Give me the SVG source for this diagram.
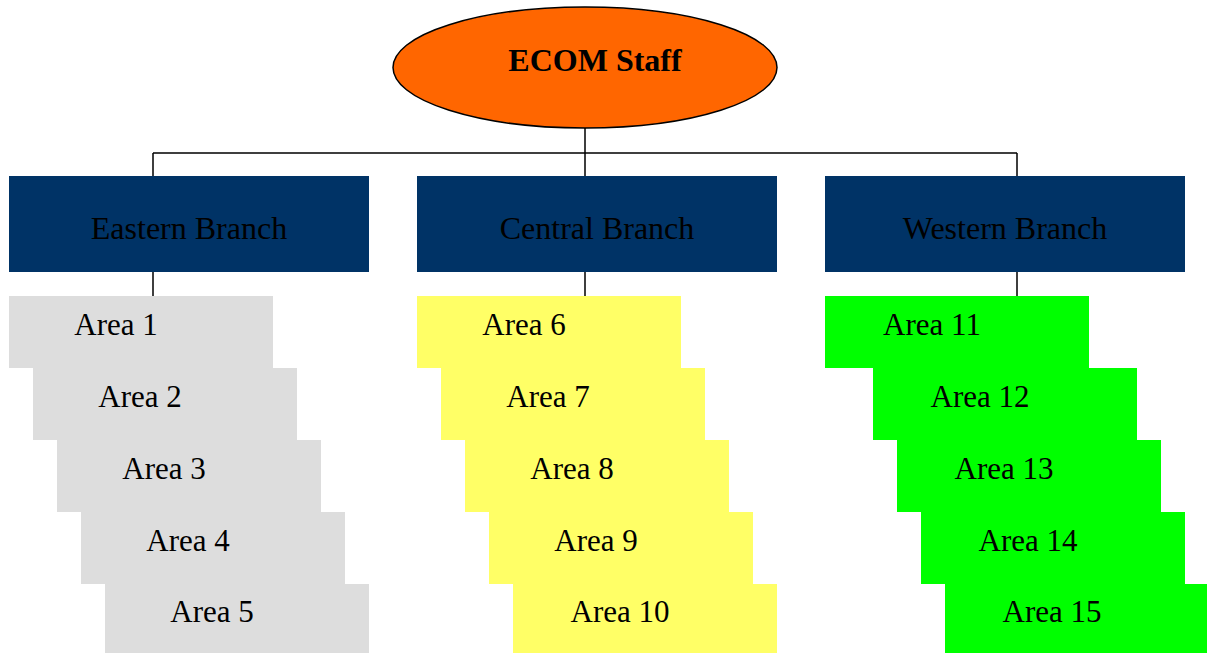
<svg xmlns="http://www.w3.org/2000/svg" width="1207" height="654" viewBox="0 0 1207 654">
<style>
text{font-family:"Liberation Serif","Times New Roman",serif;font-size:31px;fill:#000;text-anchor:middle}
.big{font-size:32px}
.branch{fill:#003366}
.gray{fill:#DDDDDD}
.yellow{fill:#FFFF66}
.green{fill:#00FF00}
.conn{stroke:#000;stroke-width:1.5;fill:none}
</style>
<rect width="1207" height="654" fill="#fff"/>
<g id="connectors">
<path class="conn" d="M585,128 V176 M153,153 H1017 M153,153 V176 M1017,153 V176"/>
<path class="conn" d="M153,272 V296 M585,272 V296 M1017,272 V296"/>
</g>
<g id="root">
<ellipse cx="585" cy="67.5" rx="192" ry="60.5" fill="#FF6600" stroke="#000" stroke-width="1.5"/>
<text class="big" x="595" y="71" style="font-weight:bold">ECOM Staff</text>
</g>
<g id="eastern"><rect class="branch" x="9" y="176" width="360" height="96"/><text class="big" x="189" y="239">Eastern Branch</text></g>
<g id="central"><rect class="branch" x="417" y="176" width="360" height="96"/><text class="big" x="597" y="239">Central Branch</text></g>
<g id="western"><rect class="branch" x="825" y="176" width="360" height="96"/><text class="big" x="1005" y="239">Western Branch</text></g>
<g id="area1"><rect class="gray" x="9" y="296" width="264" height="72"/><text x="116" y="335">Area 1</text></g>
<g id="area2"><rect class="gray" x="33" y="368" width="264" height="72"/><text x="140" y="407">Area 2</text></g>
<g id="area3"><rect class="gray" x="57" y="440" width="264" height="72"/><text x="164" y="479">Area 3</text></g>
<g id="area4"><rect class="gray" x="81" y="512" width="264" height="72"/><text x="188" y="551">Area 4</text></g>
<g id="area5"><rect class="gray" x="105" y="584" width="264" height="69"/><text x="212" y="622">Area 5</text></g>
<g id="area6"><rect class="yellow" x="417" y="296" width="264" height="72"/><text x="524" y="335">Area 6</text></g>
<g id="area7"><rect class="yellow" x="441" y="368" width="264" height="72"/><text x="548" y="407">Area 7</text></g>
<g id="area8"><rect class="yellow" x="465" y="440" width="264" height="72"/><text x="572" y="479">Area 8</text></g>
<g id="area9"><rect class="yellow" x="489" y="512" width="264" height="72"/><text x="596" y="551">Area 9</text></g>
<g id="area10"><rect class="yellow" x="513" y="584" width="264" height="69"/><text x="620" y="622">Area 10</text></g>
<g id="area11"><rect class="green" x="825" y="296" width="264" height="72"/><text x="932" y="335">Area 11</text></g>
<g id="area12"><rect class="green" x="873" y="368" width="264" height="72"/><text x="980" y="407">Area 12</text></g>
<g id="area13"><rect class="green" x="897" y="440" width="264" height="72"/><text x="1004" y="479">Area 13</text></g>
<g id="area14"><rect class="green" x="921" y="512" width="264" height="72"/><text x="1028" y="551">Area 14</text></g>
<g id="area15"><rect class="green" x="945" y="584" width="264" height="69"/><text x="1052" y="622">Area 15</text></g>
</svg>
